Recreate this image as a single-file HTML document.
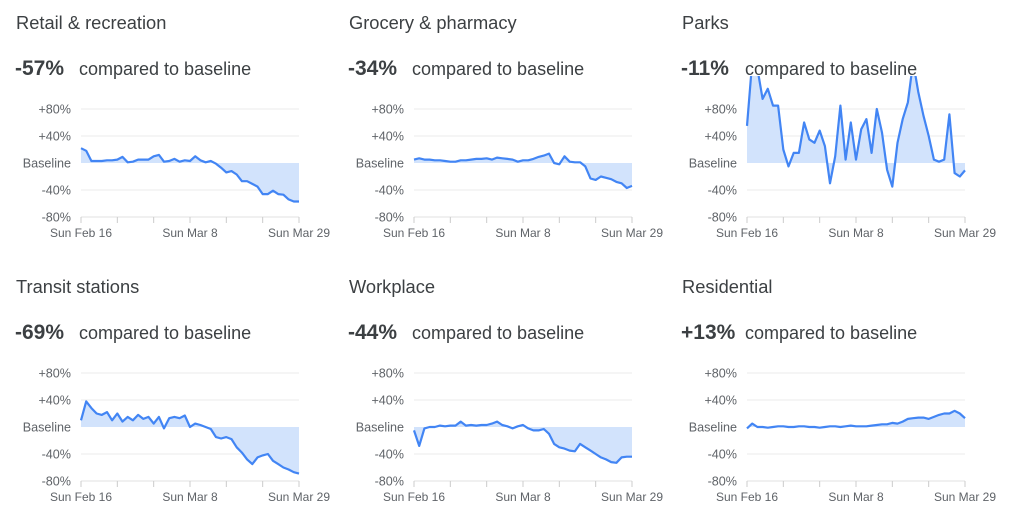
<!DOCTYPE html>
<html><head><meta charset="utf-8"><style>
body{margin:0;background:#fff;width:1024px;height:527px;overflow:hidden;font-family:"Liberation Sans",Arial,sans-serif}
svg{position:absolute;left:0;top:0}
</style></head><body>
<svg id="s" width="1024" height="527" xmlns="http://www.w3.org/2000/svg"></svg>
<script>
var P=[
["Retail & recreation","-57%",0,0,[22,18,3,3,3,4,4,5,9,1,2,5,5,5,10,12,2,3,6,2,4,3,10,4,1,3,-1,-7,-14,-12,-17,-27,-27,-31,-35,-46,-46,-41,-46,-47,-54,-57,-62,-57].slice(0,42).concat([-57])],
["Grocery & pharmacy","-34%",333,0,[5,7,5,5,4,4,3,2,2,4,4,5,6,6,7,5,8,7,6,5,2,4,4,6,9,11,14,0,-2,10,2,1,1,-5,-23,-25,-20,-22,-24,-28,-30,-37,-34]],
["Parks","-11%",666,0,[55,150,140,95,110,85,85,20,-5,15,15,60,35,30,48,25,-30,10,85,5,60,5,50,65,15,80,45,-10,-35,30,65,90,150,105,70,40,5,2,5,72,-15,-20,-45,-11].slice(0,42).concat([-11])],
["Transit stations","-69%",0,264,[10,38,28,20,18,22,10,20,8,15,10,18,12,15,5,15,-2,13,15,13,17,0,5,3,0,-3,-15,-17,-15,-18,-30,-38,-48,-55,-45,-42,-40,-50,-55,-60,-63,-67,-69]],
["Workplace","-44%",333,264,[-5,-28,-2,0,0,2,1,2,2,8,2,3,2,3,3,5,8,3,1,-2,1,3,-2,-5,-5,-3,-10,-25,-30,-32,-35,-36,-25,-30,-35,-40,-45,-48,-52,-53,-45,-44,-44]],
["Residential","+13%",666,264,[-2,5,0,0,-1,0,1,1,0,0,1,1,0,0,-1,0,1,1,0,1,2,1,1,1,2,3,4,4,6,5,8,12,13,14,14,12,15,18,20,20,24,20,13]]
];
var h='<defs>';
P.forEach(function(p,i){h+='<clipPath id="c'+i+'"><rect x="'+(p[2]+60)+'" y="'+(p[3]+76)+'" width="260" height="150"/></clipPath>';});
h+='</defs>';
P.forEach(function(p,i){
 var ox=p[2],oy=p[3],x0=ox+81,x1=ox+299,b=oy+163,d=p[4],n=d.length,dx=(x1-x0)/(n-1);
 h+='<text x="'+(ox+16)+'" y="'+(oy+29)+'" font-size="18.3" fill="#3c4043">'+p[0].replace('&','&amp;')+'</text>';
 h+='<text x="'+(ox+15)+'" y="'+(oy+75)+'" font-size="21" font-weight="bold" fill="#3c4043">'+p[1]+'</text>';
 h+='<text x="'+(ox+79)+'" y="'+(oy+75)+'" font-size="18" fill="#3c4043">compared to baseline</text>';
 var labs=['+80%','+40%','Baseline','-40%','-80%'];
 for(var k=0;k<5;k++){var y=oy+109+27*k;
  if(k!=2&&k!=4)h+='<line x1="'+x0+'" x2="'+x1+'" y1="'+y+'" y2="'+y+'" stroke="#ebebeb"/>';
  h+='<text x="'+(ox+71)+'" y="'+(y+4.5)+'" font-size="12.6" fill="#5f6368" text-anchor="end">'+labs[k]+'</text>';}
 h+='<line x1="'+x0+'" x2="'+x1+'" y1="'+(oy+217)+'" y2="'+(oy+217)+'" stroke="#e0e0e0"/>';
 for(var w=0;w<7;w++){var tx=x0+w*(x1-x0)/6;h+='<line x1="'+tx+'" x2="'+tx+'" y1="'+(oy+217)+'" y2="'+(oy+223)+'" stroke="#ccc"/>';}
 [[x0,'Sun Feb 16'],[ox+190,'Sun Mar 8'],[x1,'Sun Mar 29']].forEach(function(t){h+='<text x="'+t[0]+'" y="'+(oy+237)+'" font-size="12" fill="#5f6368" text-anchor="middle">'+t[1]+'</text>';});
 var pts=d.map(function(v,j){return (x0+j*dx).toFixed(1)+','+(b-v*27/40).toFixed(1);});
 h+='<g clip-path="url(#c'+i+')"><path d="M'+x0+','+b+'L'+pts.join('L')+'L'+x1+','+b+'Z" fill="#d2e3fc"/>';
 h+='<path d="M'+pts.join('L')+'" fill="none" stroke="#4285f4" stroke-width="2.2" stroke-linejoin="round"/></g>';
});
document.getElementById('s').innerHTML=h;
</script>
</body></html>
